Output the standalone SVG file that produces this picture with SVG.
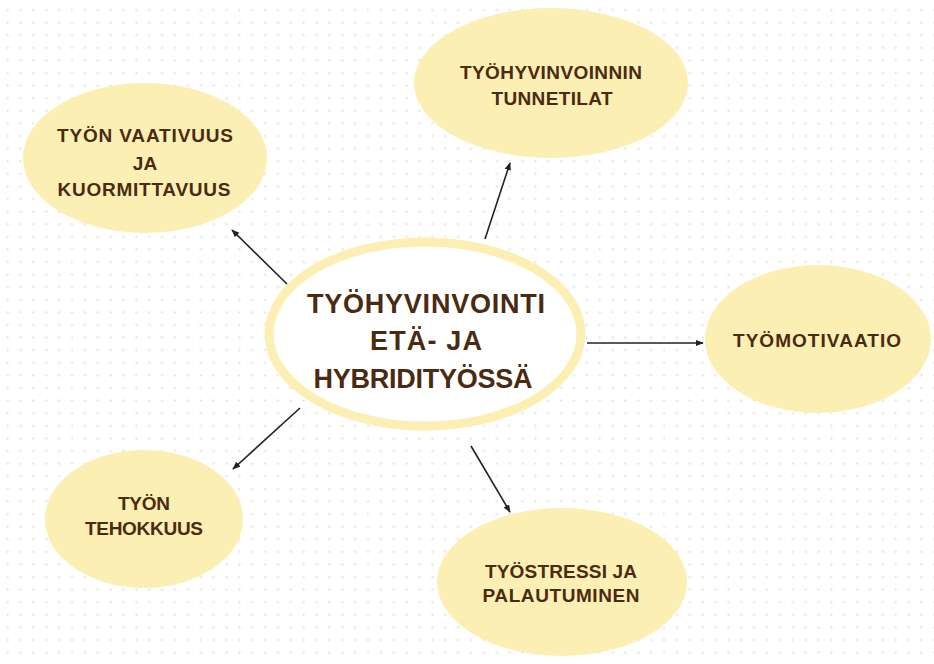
<svg xmlns="http://www.w3.org/2000/svg" width="934" height="664" viewBox="0 0 934 664">
<defs>
<pattern id="dots" x="1.3" y="3.7" width="12.87" height="12.6" patternUnits="userSpaceOnUse">
<circle cx="6.4" cy="6.3" r="1.2" fill="#e4e4e6"/>
</pattern>
<marker id="arr" viewBox="0 0 10 10" refX="9" refY="5" markerWidth="8" markerHeight="8" markerUnits="userSpaceOnUse" orient="auto">
<path d="M0,1 L10,5 L0,9 Z" fill="#222"/>
</marker>
<style>
.n{fill:#fcefb3}
.t{font-family:"Liberation Sans",Arial,sans-serif;font-weight:bold;fill:#4a2b12;text-anchor:middle}
.s{font-size:19px}
.c{font-size:27px}
.l{stroke:#222;stroke-width:1.6;fill:none;marker-end:url(#arr)}
</style>
</defs>
<rect width="934" height="664" fill="#ffffff"/>
<rect width="934" height="664" fill="url(#dots)"/>
<g id="connectors">
<line class="l" x1="287" y1="284" x2="232" y2="230"/>
<line class="l" x1="485" y1="239" x2="510" y2="163"/>
<line class="l" x1="587" y1="343" x2="703" y2="343"/>
<line class="l" x1="300" y1="408" x2="233" y2="469"/>
<line class="l" x1="471" y1="446" x2="510" y2="512"/>
</g>
<g id="center">
<ellipse cx="425" cy="334" rx="156" ry="92" fill="#ffffff" stroke="#fcefb3" stroke-width="9"/>
<text class="t c" x="426" y="313" textLength="238">TYÖHYVINVOINTI</text>
<text class="t c" x="426" y="350" textLength="112">ETÄ- JA</text>
<text class="t c" x="423" y="388" textLength="219">HYBRIDITYÖSSÄ</text>
</g>
<g id="vaativuus">
<ellipse class="n" cx="145" cy="158" rx="122" ry="75"/>
<text class="t s" x="145" y="142" textLength="176">TYÖN VAATIVUUS</text>
<text class="t s" x="145" y="170">JA</text>
<text class="t s" x="144" y="196" textLength="173">KUORMITTAVUUS</text>
</g>
<g id="tunnetilat">
<ellipse class="n" cx="551" cy="83" rx="137" ry="75"/>
<text class="t s" x="551" y="79" textLength="182">TYÖHYVINVOINNIN</text>
<text class="t s" x="552" y="105" textLength="121">TUNNETILAT</text>
</g>
<g id="motivaatio">
<ellipse class="n" cx="818" cy="339" rx="113" ry="74"/>
<text class="t s" x="817" y="347" textLength="168">TYÖMOTIVAATIO</text>
</g>
<g id="tehokkuus">
<ellipse class="n" cx="144" cy="519" rx="99" ry="69"/>
<text class="t s" x="144" y="510" textLength="52">TYÖN</text>
<text class="t s" x="144" y="535" textLength="118">TEHOKKUUS</text>
</g>
<g id="tyostressi">
<ellipse class="n" cx="562" cy="582" rx="125" ry="74"/>
<text class="t s" x="561" y="578" textLength="152">TYÖSTRESSI JA</text>
<text class="t s" x="561" y="602" textLength="157">PALAUTUMINEN</text>
</g>
</svg>
